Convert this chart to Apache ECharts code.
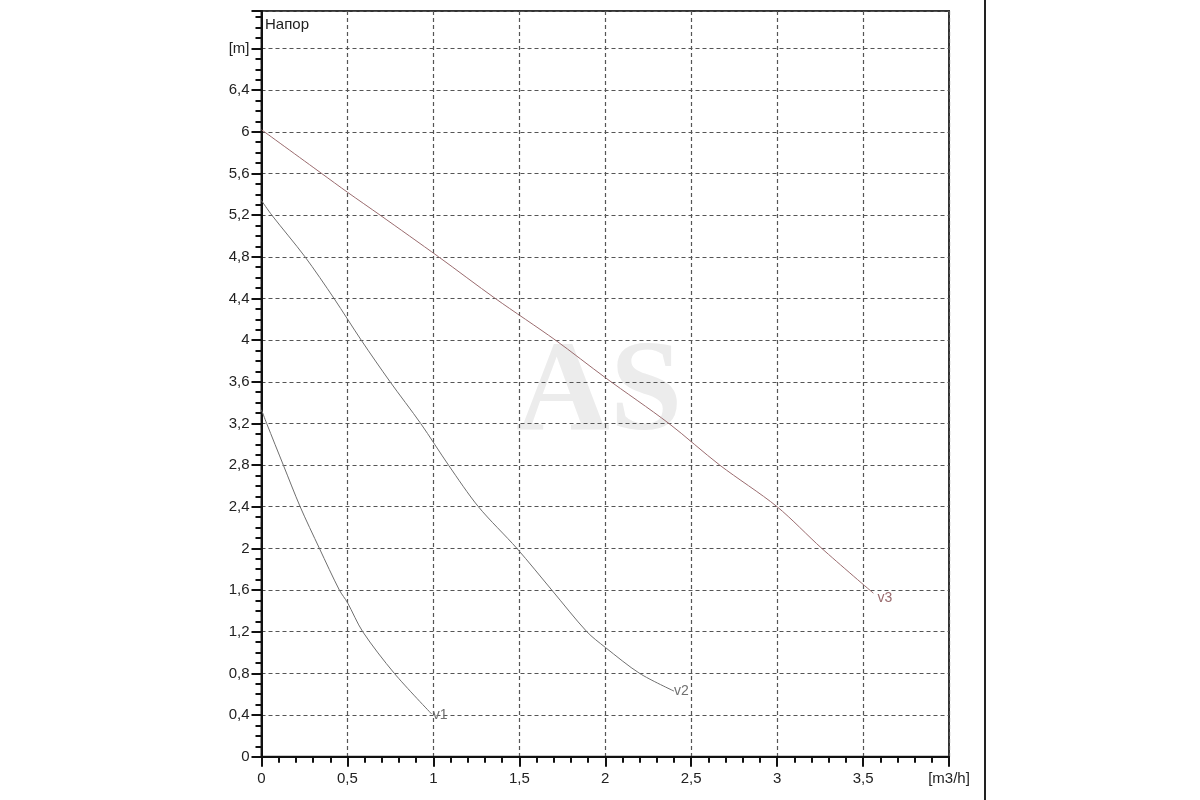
<!DOCTYPE html>
<html>
<head>
<meta charset="utf-8">
<script src="https://cdn.jsdelivr.net/npm/echarts@6/dist/echarts.min.js"></script>
<style>html,body{margin:0;padding:0;background:#fff}#c{width:1200px;height:800px}</style>
</head>
<body>
<div id="c"></div>
<script>
// Data (flow m3/h, head m)
const v1 = [[0,3.33],[0.03,3.2],[0.127,2.8],[0.225,2.4],[0.337,2.0],[0.453,1.6],[0.5,1.48],[0.589,1.2],[0.773,0.8],[0.99,0.41]];
const v2 = [[0,5.34],[0.06,5.2],[0.253,4.8],[0.422,4.4],[0.58,4.0],[0.748,3.6],[0.926,3.2],[1.088,2.8],[1.262,2.4],[1.486,2.0],[1.689,1.6],[1.893,1.2],[2.0,1.05],[2.2,0.8],[2.4,0.63]];
const v3 = [[0,6.02],[0.35,5.6],[0.5,5.42],[0.69,5.2],[1.03,4.8],[1.36,4.4],[1.71,4.0],[2.0,3.64],[2.37,3.2],[2.666,2.8],[3.0,2.4],[3.26,2.0],[3.56,1.57]];
const seriesNames = ['v1','v2','v3'];
const yUnitLabel = '[m]';
const xUnitLabel = '[m3/h]';
const yTitle = 'Напор';
const watermark = 'AS';

const chart = echarts.init(document.getElementById('c'), null, {renderer:'canvas'});
const font = 'Liberation Sans, Arial, sans-serif';
function isMult(v, step){ return Math.abs(v/step - Math.round(v/step)) < 1e-6; }
function fmt(v){ return (Math.round(v*10)/10).toString().replace('.', ','); }

const mkSeries = (name, data, color, off) => ({
  name, type:'line', data, showSymbol:false, symbol:'none', smooth:0.3,
  lineStyle:{color, width:1}, z:5,
  endLabel:{show:true, formatter:name, color, fontFamily:font, fontSize:14, distance:0, offset:off}
});

chart.setOption({
  animation:false,
  backgroundColor:'#fff',
  grid:{left:261.5, top:11, right:251, bottom:43.3, show:true, borderColor:'#333', borderWidth:2, backgroundColor:'transparent'},
  xAxis:{
    type:'value', min:0, max:4, interval:0.5,
    axisLine:{show:true, lineStyle:{color:'#111', width:2}},
    axisTick:{show:true, length:10, lineStyle:{color:'#111', width:2}},
    minorTick:{show:true, splitNumber:5, length:6, lineStyle:{color:'#111', width:2}},
    splitLine:{show:true, lineStyle:{color:'#555', type:[4,3], width:1.2}},
    axisLabel:{margin:15, color:'#222', fontFamily:font, fontSize:15,
      formatter:v => isMult(v,4) && v>0 ? xUnitLabel : fmt(v)}
  },
  yAxis:{
    type:'value', min:0, max:7.16, interval:0.4,
    axisLine:{show:true, lineStyle:{color:'#111', width:2}},
    axisTick:{show:true, length:10, lineStyle:{color:'#111', width:2}},
    minorTick:{show:true, splitNumber:4, length:6, lineStyle:{color:'#111', width:2}},
    splitLine:{show:true, lineStyle:{color:'#555', type:[4,3], width:1.2}},
    axisLabel:{margin:12, color:'#222', fontFamily:font, fontSize:15,
      formatter:v => { if(!isMult(v,0.4)) return ''; if(Math.abs(v-6.8)<1e-6) return yUnitLabel; return fmt(v);} }
  },
  graphic:[
    {type:'text', left:516, top:330, z:0, silent:true,
      style:{text:watermark, font:'bold 130px "Liberation Serif", "DejaVu Serif", serif', fill:'#ececec'}},
    {type:'text', left:265, top:17, z:10,
      style:{text:yTitle, font:'15px "Liberation Sans", Arial, sans-serif', fill:'#222'}},
    {type:'line', shape:{x1:985, y1:0, x2:985, y2:800}, style:{stroke:'#222', lineWidth:2}}
  ],
  series:[
    mkSeries(seriesNames[0], v1, '#6f6f6f', [1,1]),
    mkSeries(seriesNames[1], v2, '#707070', [0,0]),
    mkSeries(seriesNames[2], v3, '#9a6b6e', [4,5])
  ]
});
</script>
</body>
</html>
